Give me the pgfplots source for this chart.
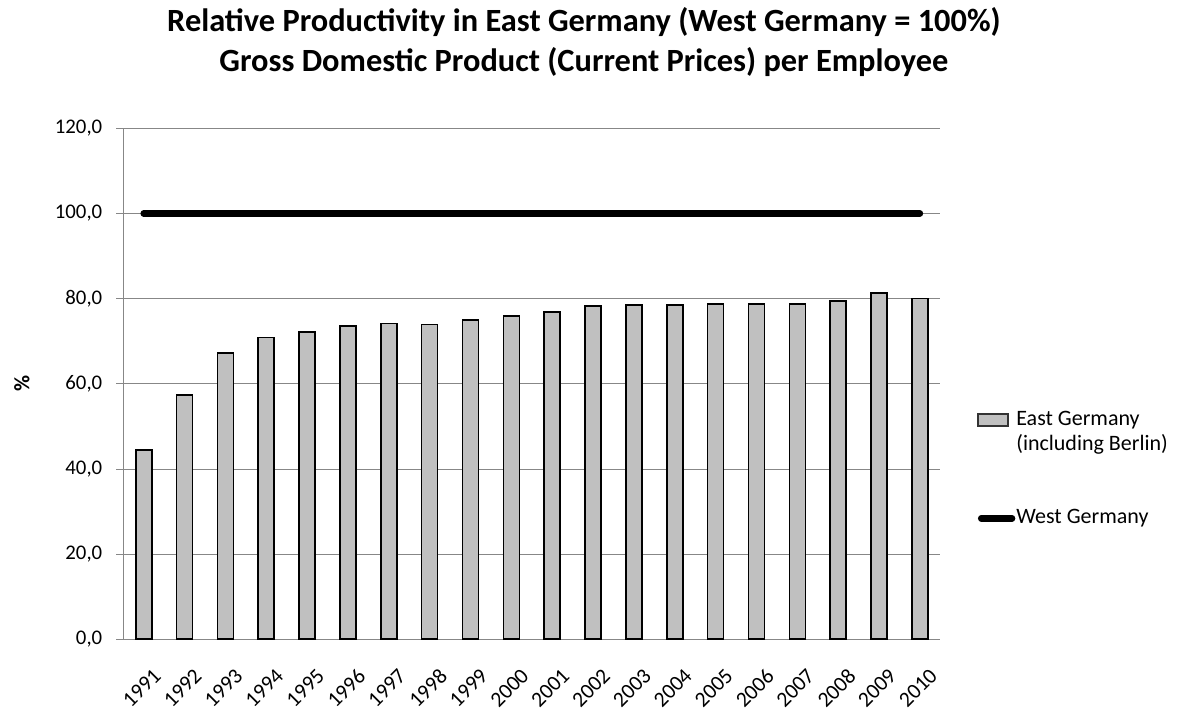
\documentclass[border=0pt]{standalone}
\usepackage{pgfplots}
\pgfplotsset{compat=1.18}
\usepackage{fontspec}
\setmainfont{Carlito}
\definecolor{barfill}{HTML}{C0C0C0}
\definecolor{axisgray}{HTML}{878787}

\begin{document}
\begin{tikzpicture}
\useasboundingbox (0,0) rectangle (589.5pt,355pt);

\node[anchor=base, font=\bfseries\fontsize{16.2}{19}\selectfont] at (292pt,339pt)
  {Relative Productivity in East Germany (West Germany = 100\%)};
\node[anchor=base, font=\bfseries\fontsize{16.2}{19}\selectfont] at (292pt,319pt)
  {Gross Domestic Product (Current Prices) per Employee};

\begin{axis}[
  at={(61.65pt,35.35pt)}, anchor=south west,
  scale only axis,
  width=408.5pt, height=255.5pt,
  xmin=-0.5, xmax=19.5,
  ymin=0, ymax=120,
  ytick={0,20,...,120},
  xtick={0,...,19},
  xticklabels={1991,1992,1993,1994,1995,1996,1997,1998,1999,2000,
               2001,2002,2003,2004,2005,2006,2007,2008,2009,2010},
  x tick label style={rotate=45, anchor=north east, font=\fontsize{10.8}{12}\selectfont,
                      xshift=-1pt, yshift=-7pt},
  y tick label style={font=\fontsize{10.4}{12}\selectfont, xshift=-3.5pt},
  major x tick style={draw=none},
  extra x ticks={-0.5,0.5,...,19.5},
  extra x tick labels={},
  extra x tick style={tick style={draw=axisgray, thin}, major tick length=3.5pt,
                      tick align=outside, grid=none},
  /pgf/number format/.cd, fixed, fixed zerofill, precision=1, use comma,
  assume math mode=true,
  /pgfplots/.cd,
  axis x line*=bottom,
  axis y line*=left,
  axis line style={draw=axisgray, thin, -},
  ymajorgrids,
  grid style={draw=axisgray, thin},
  y tick style={draw=axisgray, thin},
  major tick length=3.5pt,
  tick align=outside,
  ylabel={\textbf{\%}},
  ylabel style={font=\fontsize{11}{12}\selectfont, at={(axis description cs:-0.124,0.5)},
                anchor=center},
  legend style={at={(1.0375,0.4585)}, anchor=north west, draw=none, fill=none,
                font=\fontsize{11}{12.5}\selectfont, row sep=26pt,
                nodes={align=left, inner xsep=0.5pt, inner ysep=1pt}},
  legend cell align=left,
]
% East Germany, relative to West Germany = 100
\addplot[ybar, bar width=8pt, fill=barfill, draw=black, line width=0.8pt,
  legend image code/.code={\draw[fill=barfill, draw=black!80, line width=0.7pt]
    (0pt,3.25pt) rectangle (15pt,9.25pt);}]
  coordinates {
  (0,44.5) (1,57.4) (2,67.3) (3,70.9) (4,72.1) (5,73.6) (6,74.2) (7,73.9)
  (8,75.0) (9,75.9) (10,76.8) (11,78.3) (12,78.5) (13,78.5) (14,78.8)
  (15,78.8) (16,78.8) (17,79.4) (18,81.3) (19,80.0)};
\addlegendentry{East Germany\\(including Berlin)}

% West Germany reference level
\addplot[black, line width=3.3pt, line cap=round, mark=none,
  legend image code/.code={\draw[black, line width=3.3pt, line cap=round]
    (1.6pt,0pt) -- (17pt,0pt);}]
  coordinates {
  (0,100) (1,100) (2,100) (3,100) (4,100) (5,100) (6,100) (7,100) (8,100) (9,100)
  (10,100) (11,100) (12,100) (13,100) (14,100) (15,100) (16,100) (17,100) (18,100) (19,100)};
\addlegendentry{West Germany}
\end{axis}
\end{tikzpicture}
\end{document}
